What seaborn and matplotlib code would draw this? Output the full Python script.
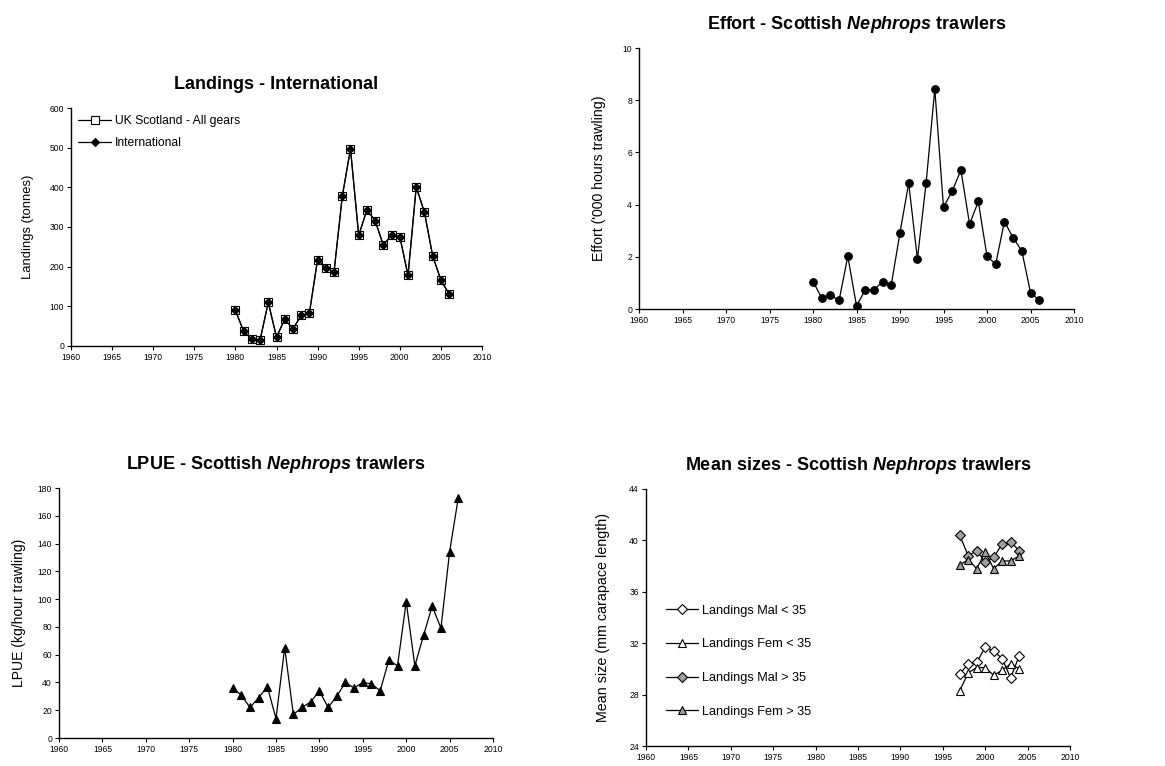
"""
Nephrops fishery summary: landings, effort, LPUE and mean sizes.
"""

from matplotlib import pyplot as plt
import pandas as pd
import seaborn as sns

years = list(range(1980, 2007))
landings_uk = [90, 37, 18, 15, 110, 22, 68, 43, 77, 83, 218, 196, 187, 377, 497,
               279, 343, 316, 254, 280, 276, 178, 401, 337, 227, 166, 131]
landings_int = [90, 37, 18, 15, 110, 22, 68, 43, 77, 83, 218, 196, 187, 377, 497,
                279, 343, 316, 254, 280, 276, 178, 401, 337, 227, 166, 131]
effort = [1.05, 0.43, 0.53, 0.33, 2.02, 0.12, 0.73, 0.73, 1.05, 0.93, 2.93, 4.82,
          1.92, 4.82, 8.43, 3.9, 4.52, 5.32, 3.25, 4.12, 2.02, 1.72, 3.35, 2.73,
          2.23, 0.63, 0.33]
lpue = [36, 31, 22, 29, 37, 14, 65, 17, 22, 26, 34, 22, 30, 40, 36, 40, 39, 34,
        56, 52, 98, 52, 74, 95, 79, 134, 173]

size_years = list(range(1997, 2005))
mal_small = [29.6, 30.4, 30.5, 31.7, 31.4, 30.8, 29.3, 31.0]
fem_small = [28.3, 29.7, 30.1, 30.1, 29.5, 29.9, 30.4, 30.0]
mal_large = [40.4, 38.8, 39.2, 38.3, 38.7, 39.7, 39.9, 39.2]
fem_large = [38.1, 38.5, 37.8, 39.1, 37.8, 38.4, 38.4, 38.8]

xticks = list(range(1960, 2011, 5))

sns.set_style("ticks")
plt.rcParams["font.family"] = ["Liberation Sans", "DejaVu Sans"]
plt.rcParams["text.color"] = "black"
plt.rcParams["axes.labelcolor"] = "black"
plt.rcParams["mathtext.fontset"] = "custom"
plt.rcParams["mathtext.it"] = "Liberation Sans:bold:italic"
plt.rcParams["mathtext.rm"] = "Liberation Sans:bold"

W, H = 1165, 766
fig = plt.figure(figsize=(W / 100, H / 100), dpi=100)


def add_panel(x0, y0, x1, y1):
    ax = fig.add_axes([x0 / W, 1 - y1 / H, (x1 - x0) / W, (y1 - y0) / H])
    sns.despine(ax=ax)
    for s in ("left", "bottom"):
        ax.spines[s].set_linewidth(1.0)
        ax.spines[s].set_color("black")
    ax.tick_params(direction="out", length=3, width=0.8, labelsize=6.2,
                   colors="black", pad=2)
    ax.set_xlim(1960, 2010)
    ax.set_xticks(xticks)
    ax.set_xlabel("")
    return ax


def line(ax, x, y, marker, face, label=None, ms=5.5):
    sns.lineplot(x=x, y=y, ax=ax, color="black", linewidth=0.9, marker=marker,
                 markersize=ms, markerfacecolor=face, markeredgecolor="black",
                 markeredgewidth=0.8, label=label, legend=False)


def title(ax, text):
    ax.set_title(text, fontsize=13, fontweight="bold", pad=14, color="black")


# Landings
ax = add_panel(71, 108, 482, 346)
line(ax, years, landings_uk, "s", "white", "UK Scotland - All gears", ms=6)
line(ax, years, landings_int, "D", "black", "International", ms=4.5)
ax.set_ylim(0, 600)
ax.set_yticks(range(0, 601, 100))
ax.set_ylabel("Landings (tonnes)", fontsize=9.4, labelpad=11)
title(ax, "Landings - International")
ax.legend(loc="upper left", frameon=False, fontsize=8.7, handlelength=2.7,
          labelspacing=0.8, borderaxespad=0.2, handletextpad=0.35)

# Effort
ax = add_panel(639, 48, 1074, 309)
line(ax, years, effort, "o", "black")
ax.set_ylim(0, 10)
ax.set_yticks(range(0, 11, 2))
ax.set_ylabel("Effort ('000 hours trawling)", fontsize=10.2, labelpad=12)
title(ax, r"Effort - Scottish $\mathit{Nephrops}$ trawlers")

# LPUE
ax = add_panel(59, 488, 493, 738)
line(ax, years, lpue, "^", "black", ms=6)
ax.set_ylim(0, 180)
ax.set_yticks(range(0, 181, 20))
ax.set_ylabel("LPUE (kg/hour trawling)", fontsize=10.0, labelpad=8)
title(ax, r"LPUE - Scottish $\mathit{Nephrops}$ trawlers")

# Mean sizes
ax = add_panel(646, 489, 1070, 746)
line(ax, size_years, mal_small, "D", "white", "Landings Mal < 35", ms=5)
line(ax, size_years, fem_small, "^", "white", "Landings Fem < 35", ms=6)
line(ax, size_years, mal_large, "D", "#a0a0a0", "Landings Mal > 35", ms=5)
line(ax, size_years, fem_large, "^", "#a0a0a0", "Landings Fem > 35", ms=6)
ax.set_ylim(24, 44)
ax.set_yticks(range(24, 45, 4))
ax.set_ylabel("Mean size (mm carapace length)", fontsize=10.3, labelpad=14)
title(ax, r"Mean sizes - Scottish $\mathit{Nephrops}$ trawlers")
ax.legend(loc="upper left", bbox_to_anchor=(0.035, 0.57), frameon=False,
          fontsize=9.2, handlelength=2.5, labelspacing=1.7,
          handletextpad=0.3, borderaxespad=0)

fig.savefig("out.png", dpi=100)
